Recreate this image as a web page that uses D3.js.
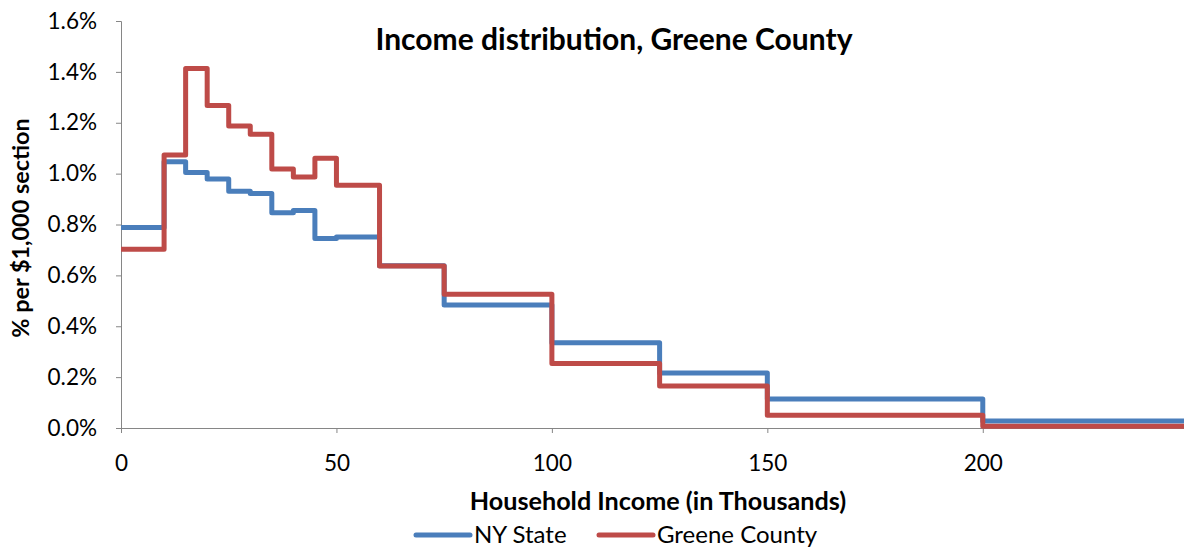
<!DOCTYPE html>
<html><head><meta charset="utf-8">
<script src="https://cdn.jsdelivr.net/npm/d3@7"></script>
<style>
body{margin:0;background:#fff;}
text{font-family:Lato,"Open Sans",sans-serif;}
</style></head>
<body><svg id="c" width="1184" height="548"></svg>
<script>
const binStarts = [0,10,15,20,25,30,35,40,45,50,60,75,100,125,150,200];
const xMax = 246.7;
const nyState = [0.788,1.047,1.004,0.979,0.931,0.922,0.846,0.855,0.745,0.751,0.638,0.484,0.335,0.216,0.114,0.028];
const greeneCounty = [0.703,1.073,1.413,1.268,1.187,1.155,1.018,0.987,1.060,0.954,0.637,0.526,0.254,0.165,0.050,0.007];
const xTicks = [0,50,100,150,200];
const yTicks = [0,0.2,0.4,0.6,0.8,1.0,1.2,1.4,1.6];
const seriesNames = ["NY State","Greene County"];
const colors = ["#4a7ebb","#be4b48"];

const svg = d3.select("#c");
const L=121, R=1184, T=21, B=428;
const x = d3.scaleLinear().domain([0,xMax]).range([L,R]);
const y = d3.scaleLinear().domain([0,1.6]).range([B,T]);
const axisColor="#868686";
const FF = "Lato,'Open Sans',sans-serif";

// y axis
const ya = svg.append("g").attr("transform",`translate(${L},0)`)
  .call(d3.axisLeft(y).tickValues(yTicks).tickSize(5).tickPadding(19).tickFormat(d=>d.toFixed(1)+"%"));
ya.selectAll("path,line").attr("stroke",axisColor);
ya.selectAll("text").attr("font-size",22.5).attr("fill","#000").style("font-family",FF);
// x axis
const xa = svg.append("g").attr("transform",`translate(0,${B})`)
  .call(d3.axisBottom(x).tickValues(xTicks).tickSize(5).tickPadding(22).tickSizeOuter(0));
xa.selectAll("path,line").attr("stroke",axisColor);
xa.selectAll("text").attr("font-size",22.5).attr("fill","#000").style("font-family",FF);

const line = d3.line().x(d=>x(d[0])).y(d=>y(d[1])).curve(d3.curveStepAfter);
[nyState,greeneCounty].forEach((vals,i)=>{
  const pts = binStarts.map((b,j)=>[b,vals[j]]);
  pts.push([xMax, vals[vals.length-1]]);
  svg.append("path").datum(pts).attr("d",line).attr("fill","none")
    .attr("stroke",colors[i]).attr("stroke-width",5).attr("stroke-linejoin","round");
});

svg.append("text").attr("x",614).attr("y",50).attr("text-anchor","middle")
  .attr("font-size",30).attr("font-weight","bold").text("Income distribution, Greene County");
svg.append("text").attr("x",658).attr("y",510).attr("text-anchor","middle")
  .attr("font-size",25.2).attr("font-weight","bold").text("Household Income (in Thousands)");
svg.append("text").attr("transform","translate(29,228) rotate(-90)").attr("text-anchor","middle")
  .attr("font-size",23.4).attr("font-weight","bold").text("% per $1,000 section");

// legend
const leg = [[416,474],[599,657]];
seriesNames.forEach((n,i)=>{
  svg.append("line").attr("x1",leg[i][0]).attr("x2",leg[i][0]+54).attr("y1",535).attr("y2",535)
    .attr("stroke",colors[i]).attr("stroke-width",5).attr("stroke-linecap","round");
  svg.append("text").attr("x",leg[i][1]).attr("y",543).attr("font-size",24).text(n);
});
</script></body></html>
